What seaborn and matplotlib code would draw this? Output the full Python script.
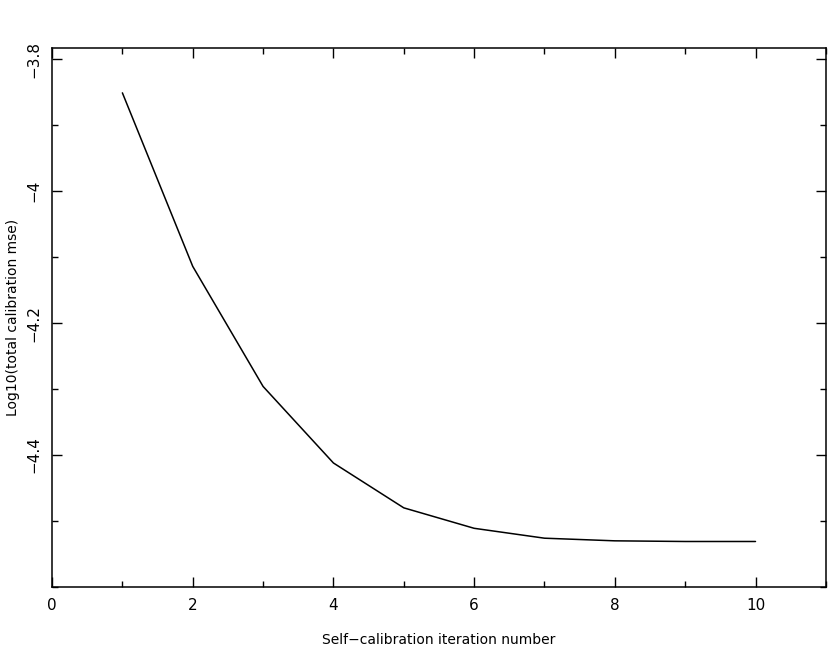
import numpy as np
import pandas as pd
import matplotlib
matplotlib.use("Agg")
import matplotlib.pyplot as plt
import seaborn as sns
from matplotlib.ticker import MultipleLocator

# values
iterations = [1, 2, 3, 4, 5, 6, 7, 8, 9, 10]
log_mse = [-3.851, -4.114, -4.296, -4.412, -4.480, -4.511, -4.526, -4.530, -4.531, -4.531]

df = pd.DataFrame({"iteration": iterations, "log_mse": log_mse})

sns.set_style("ticks")
plt.rcParams['font.family'] = ['DejaVu Sans']
plt.rcParams['text.color'] = 'black'
plt.rcParams['axes.labelcolor'] = 'black'
plt.rcParams['xtick.color'] = 'black'
plt.rcParams['ytick.color'] = 'black'

fig = plt.figure(figsize=(8.3, 6.45), dpi=100)
ax = fig.add_axes([0.0627, 0.0899, 0.9323, 0.8357])

sns.lineplot(data=df, x="iteration", y="log_mse", color="black", linewidth=1.1, ax=ax)

ax.set_xlim(0, 11)
ax.set_ylim(-4.6, -3.783)
ax.xaxis.set_minor_locator(MultipleLocator(1))
ax.yaxis.set_minor_locator(MultipleLocator(0.1))
ax.set_xticks([0, 2, 4, 6, 8, 10])
ax.set_xticklabels(["0", "2", "4", "6", "8", "10"])
ax.set_yticks([-4.4, -4.2, -4.0, -3.8])
ax.set_yticklabels(["\u22124.4", "\u22124.2", "\u22124", "\u22123.8"], rotation=90, va="center")

ax.tick_params(which="both", direction="in", top=True, right=True, width=1, labelsize=11)
ax.tick_params(which="major", length=7, pad=8)
ax.tick_params(which="minor", length=4)
for s in ax.spines.values():
    s.set_linewidth(1.1)
    s.set_color("black")

ax.set_xlabel("Self\u2212calibration iteration number", fontsize=10, labelpad=14)
ax.set_ylabel("Log10(total calibration mse)", fontsize=10, labelpad=4)

fig.savefig("out.png", dpi=100)
